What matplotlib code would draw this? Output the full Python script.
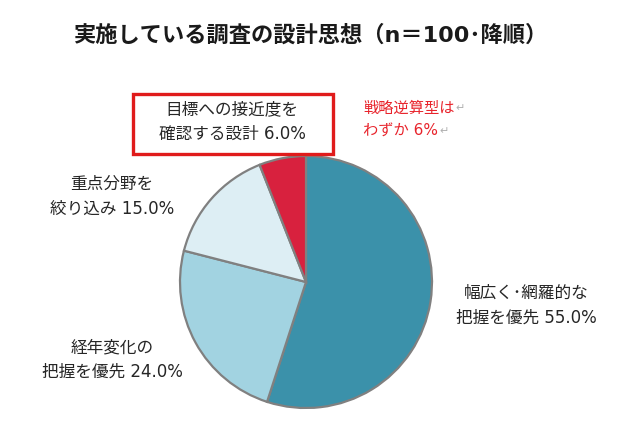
import matplotlib
matplotlib.use('Agg')
import matplotlib.pyplot as plt
from matplotlib.patches import Rectangle

plt.rcParams['font.family'] = ['Noto Sans CJK JP', 'DejaVu Sans']

# data (clockwise from 12 o'clock)
shares = [55.0, 24.0, 15.0, 6.0]
label_lines = [
    ['幅広く･網羅的な', '把握を優先 55.0%'],
    ['経年変化の', '把握を優先 24.0%'],
    ['重点分野を', '絞り込み 15.0%'],
    ['目標への接近度を', '確認する設計 6.0%'],
]
slice_colors = ['#3b91aa', '#a2d3e1', '#ddeef4', '#d8213e']
title = '実施している調査の設計思想（n＝100･降順）'
note_lines = ['戦略逆算型は', 'わずか 6%']

# latin glyphs from DejaVu (Verdana-like), kana/kanji fall back to Noto CJK
mixed = ['DejaVu Sans', 'Noto Sans CJK JP']

W, H = 621, 424
fig = plt.figure(figsize=(W / 100, H / 100), dpi=100)
ax = fig.add_axes([0, 0, 1, 1])

def py(y):
    # pixel row from top -> data y
    return H - y

ax.pie(shares, colors=slice_colors, startangle=90, counterclock=False,
       center=(306, py(282)), radius=126, frame=True,
       wedgeprops=dict(edgecolor='#808080', linewidth=1.6))
ax.set_xlim(0, W)
ax.set_ylim(0, H)
ax.set_aspect('equal')
ax.axis('off')

fig.text(0.5, 1 - 35 / H, title, ha='center', va='center',
         fontsize=16, fontweight='bold', color='#1a1a1a', family=mixed)

# slice labels (centre x, first line y, in pixels)
label_pos = [(526, 293), (112, 347), (112, 184), (232, 109)]
for lines, (x, y) in zip(label_lines, label_pos):
    for i, line in enumerate(lines):
        ax.text(x, py(y + i * 24.5), line, ha='center', va='center',
                fontsize=12, color='#262626', family=mixed)

# red highlight box around the smallest slice label
ax.add_patch(Rectangle((133, py(154)), 200, 60, fill=False,
                       edgecolor='#e01b1b', linewidth=2.4))

# red note
for i, line in enumerate(note_lines):
    t = ax.text(363, py(108 + i * 23), line, ha='left', va='center',
                fontsize=11, color='#e8242c', family=mixed)
    ax.annotate('↵', xy=(1, 0.5), xycoords=t, xytext=(1, 0),
                textcoords='offset points', va='center', ha='left',
                fontsize=8, color='#b0b0b0', family=['DejaVu Sans'])

fig.savefig('out.png', dpi=100, facecolor='white')
